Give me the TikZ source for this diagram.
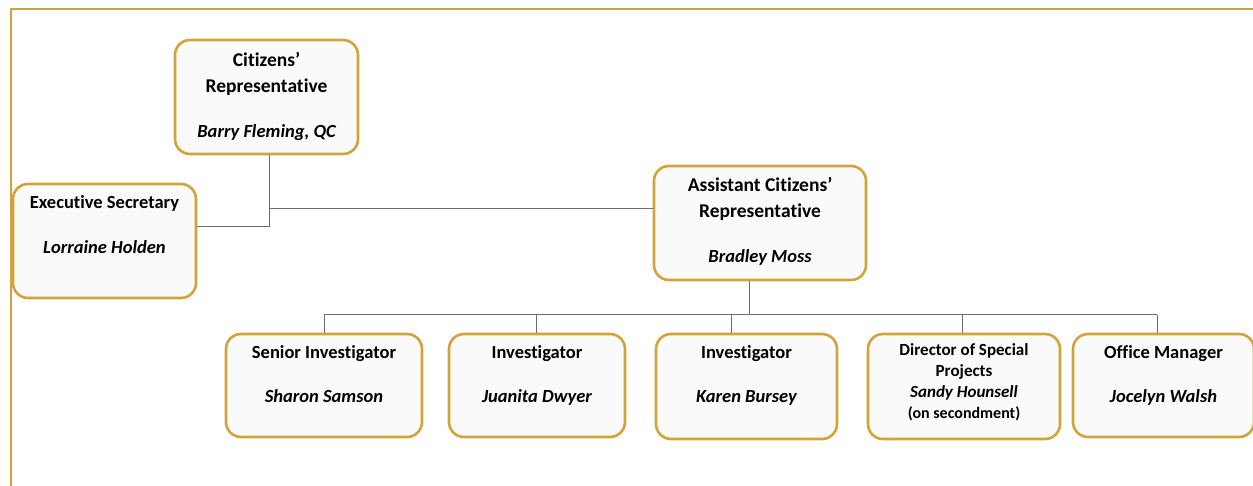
\documentclass[tikz,border=0pt]{standalone}
\usepackage{fontspec}
\setmainfont{Carlito}[Ligatures={TeX,NoCommon}, BoldFont={Carlito Bold}, BoldItalicFont={Carlito Bold Italic}]
\usetikzlibrary{positioning}
\definecolor{gold}{HTML}{D2A33A}
\definecolor{boxfill}{HTML}{FAFAFA}
\definecolor{wire}{HTML}{6E6E6E}

\newcommand{\who}[1]{{\fontsize{18.5}{21}\selectfont\bfseries\itshape #1}}

\tikzset{
  post/.style={draw=gold, line width=2.6, fill=boxfill, rounded corners=15, inner sep=0},
  bigtxt/.style={font=\bfseries\fontsize{19.5}{26}\selectfont, align=center, inner sep=0, anchor=base},
  smalltxt/.style={font=\bfseries\fontsize{18.5}{21}\selectfont, align=center, inner sep=0, anchor=base},
  tinytxt/.style={font=\bfseries\fontsize{17}{21}\selectfont, align=center, inner sep=0, anchor=base},
  wire/.style={draw=wire, line width=1}
}

\begin{document}
\begin{tikzpicture}[x=1pt,y=-1pt]
  \useasboundingbox (0,0) rectangle (1253,486);
  % frame
  \draw[gold, line width=1.6] (11,486) -- (11,9) -- (1253,9);

  % top level
  \node[post, minimum width=183, minimum height=114] (cr) at (266.5,97) {};
  \node[post, minimum width=183, minimum height=114] (es) at (104.5,241) {};
  \node[post, minimum width=212, minimum height=114] (acr) at (760,223) {};
  \node[bigtxt] (crT) at ([yshift=-99]cr.north) {Citizens'\\Representative\\[19]\who{Barry Fleming, QC}};
  \node[smalltxt] (esT) at ([yshift=-71]es.north) {Executive Secretary\\[24]\who{Lorraine Holden}};
  \node[bigtxt] (acrT) at ([yshift=-98]acr.north) {Assistant Citizens'\\Representative\\[19]\who{Bradley Moss}};

  % staff
  \node[post, minimum width=196, minimum height=103] (si) at (324,385.5) {};
  \node[post, minimum width=176, minimum height=103] (inv1) at (537,385.5) {};
  \node[post, minimum width=181, minimum height=105] (inv2) at (746.5,386.5) {};
  \node[post, minimum width=192, minimum height=105] (dsp) at (964,386.5) {};
  \node[post, minimum width=181, minimum height=103] (om) at (1163.5,385.5) {};
  \node[smalltxt] (siT) at ([yshift=-70]si.north) {Senior Investigator\\[23]\who{Sharon Samson}};
  \node[smalltxt] (inv1T) at ([yshift=-70]inv1.north) {Investigator\\[23]\who{Juanita Dwyer}};
  \node[smalltxt] (inv2T) at ([yshift=-70]inv2.north) {Investigator\\[23]\who{Karen Bursey}};
  \node[tinytxt] (dspT) at ([yshift=-86]dsp.north) {Director of Special\\Projects\\\itshape Sandy Hounsell\\\upshape\fontsize{16}{21}\selectfont(on secondment)};
  \node[smalltxt] (omT) at ([yshift=-70]om.north) {Office Manager\\[23]\who{Jocelyn Walsh}};

  % connectors
  \coordinate (jA) at (269,209);
  \coordinate (jB) at (269,227);
  \coordinate (bus) at (749,315);
  \draw[wire] (cr.south -| jB) -- (jB) -- (es.east |- jB);
  \draw[wire] (jA) -- (acr.west |- jA);
  \draw[wire] ([xshift=-11]acr.south) -- (bus);
  \draw[wire] (si.north |- bus) -- ([xshift=-6.5]om.north |- bus);
  \foreach \b/\dx in {si/0, inv1/-1, inv2/-15.5, dsp/-2, om/-6.5}
    \draw[wire] ([xshift=\dx]\b.north |- bus) -- ([xshift=\dx]\b.north);
\end{tikzpicture}
\end{document}
